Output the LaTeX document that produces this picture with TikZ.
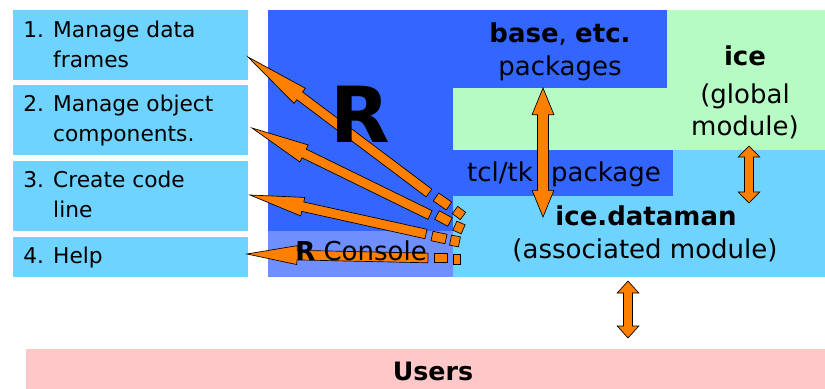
\documentclass[tikz,border=0pt]{standalone}
\usepackage{fontspec}
\setmainfont{DejaVu Sans}
\usetikzlibrary{calc}
\definecolor{rblue}{RGB}{51,102,255}
\definecolor{lblue}{RGB}{111,211,255}
\definecolor{lgreen}{RGB}{183,251,196}
\definecolor{cons}{RGB}{111,143,255}
\definecolor{upink}{RGB}{255,200,200}
\definecolor{aorange}{RGB}{255,128,0}
% block arrow: tail, head, shaft half width, head half width, head length
\newcommand\blockarr[5]{%
  \coordinate (ba) at ($(#2)!#5!(#1)$);
  \draw[arr] ($(#1)!#3!90:(#2)$) -- ($(ba)!#3!90:(#2)$) -- ($(ba)!#4!90:(#2)$) -- (#2)
    -- ($(ba)!#4!-90:(#2)$) -- ($(ba)!#3!-90:(#2)$) -- ($(#1)!#3!-90:(#2)$) -- cycle;}
% double block arrow
\newcommand\dblarr[5]{%
  \coordinate (da) at ($(#1)!#5!(#2)$);
  \coordinate (db) at ($(#2)!#5!(#1)$);
  \draw[arr] (#1) -- ($(da)!#4!90:(#2)$) -- ($(da)!#3!90:(#2)$) -- ($(db)!#3!-90:(#1)$)
    -- ($(db)!#4!-90:(#1)$) -- (#2) -- ($(db)!#4!90:(#1)$) -- ($(db)!#3!90:(#1)$)
    -- ($(da)!#3!-90:(#2)$) -- ($(da)!#4!-90:(#2)$) -- cycle;}
% dash piece
\newcommand\dashpc[3]{%
  \draw[arr] ($(#1)!#3!90:(#2)$) -- ($(#2)!#3!-90:(#1)$) -- ($(#2)!#3!90:(#1)$) -- ($(#1)!#3!-90:(#2)$) -- cycle;}
\tikzset{
  lbox/.style={fill=lblue, inner sep=0pt, minimum width=176.25pt, minimum height=#1},
  ltext/.style={anchor=base west, align=left, inner sep=0pt, font=\fontsize{16.3}{22.5}\selectfont},
  rtext/.style={anchor=base, inner sep=0pt, font=\fontsize{19.5}{24}\selectfont},
  arr/.style={fill=aorange, draw=black, line width=0.5pt, line join=miter},
}
\begin{document}
\begin{tikzpicture}[x=0.75pt, y=-0.75pt]
\useasboundingbox (0,0) rectangle (825,389);
% right block regions
\fill[rblue] (268,10) rectangle (453,231);
\fill[rblue] (453,10) rectangle (667,88);
\fill[lgreen] (667,10) rectangle (825,150);
\fill[lgreen] (453,88) rectangle (667,150);
\fill[rblue] (453,150) rectangle (673,196);
\fill[lblue] (673,150) rectangle (825,196);
\fill[lblue] (453,196) rectangle (825,277);
\fill[cons] (268,231) rectangle (453,277);
% users
\node[fill=upink, inner sep=0pt, minimum width=599.25pt, minimum height=30pt] (usersbox) at (425.5,369) {};
% left boxes
\node[lbox=52.5pt] (box1) at (130.5,45) {};
\node[lbox=52.5pt] (box2) at (130.5,120) {};
\node[lbox=52.5pt] (box3) at (130.5,196) {};
\node[lbox=30pt] (box4) at (130.5,257) {};
% fan arrows
\coordinate (h1) at (248,57);  \coordinate (t1) at (429,193);
\coordinate (h2) at (252,128); \coordinate (t2) at (430,215);
\coordinate (h3) at (250,195); \coordinate (t3) at (426,234);
\coordinate (h4) at (247,254); \coordinate (t4) at (428,258);
\blockarr{t1}{h1}{3.6pt}{7.1pt}{48.5pt}
\blockarr{t2}{h2}{3.6pt}{7.1pt}{43.5pt}
\blockarr{t3}{h3}{3.6pt}{7.1pt}{40.5pt}
\blockarr{t4}{h4}{3.6pt}{7.1pt}{37.5pt}
\coordinate (d1a) at (436,197); \coordinate (d1b) at (449,206);
\coordinate (d1c) at (455,210); \coordinate (d1d) at (463,216);
\coordinate (d2a) at (437,215); \coordinate (d2b) at (450,222);
\coordinate (d2c) at (461,223); \coordinate (d2d) at (457,232);
\coordinate (d3a) at (432,236); \coordinate (d3b) at (446,239);
\coordinate (d3c) at (456,236); \coordinate (d3d) at (454,246);
\coordinate (d4a) at (434,258); \coordinate (d4b) at (447,258);
\coordinate (d4c) at (457,254); \coordinate (d4d) at (457,264);
\dashpc{d1a}{d1b}{3.6pt}\dashpc{d1c}{d1d}{3.4pt}
\dashpc{d2a}{d2b}{3.6pt}\dashpc{d2c}{d2d}{3.4pt}
\dashpc{d3a}{d3b}{3.6pt}\dashpc{d3c}{d3d}{3.4pt}
\dashpc{d4a}{d4b}{3.6pt}\dashpc{d4c}{d4d}{2.8pt}
% vertical double arrows
\coordinate (va1) at (543,88);  \coordinate (vb1) at (543,217);
\coordinate (va2) at (749,146); \coordinate (vb2) at (749,203);
\coordinate (va3) at (628,281); \coordinate (vb3) at (628,338);
\dblarr{va1}{vb1}{4.1pt}{8.2pt}{20pt}
\dblarr{va2}{vb2}{3.4pt}{8.1pt}{8.3pt}
\dblarr{va3}{vb3}{3.4pt}{8.1pt}{9pt}
% texts (base anchor of a multi-line node = last line)
\node[ltext] (tx1) at (23,67) {1. Manage data\\\phantom{1. }frames};
\node[ltext] (tx2) at (23,141) {2. Manage object\\\phantom{2. }components.};
\node[ltext] (tx3) at (23,217) {3. Create code\\\phantom{3. }line};
\node[ltext] (tx4) at (23,263) {4. Help};
\node[anchor=base, inner sep=0pt, font=\fontsize{58}{60}\selectfont\bfseries] (Rbig) at (360,142) {R};
\node[rtext] (basetxt) at (560,42) {\textbf{base}, \textbf{etc.}};
\node[rtext] (pkgtxt) at (560,75) {packages};
\node[rtext] (icetxt) at (745,65) {\textbf{ice}};
\node[rtext] (glob) at (745,103) {(global};
\node[rtext] (modl) at (745,135) {module)};
\node[rtext] (tcl) at (500,181) {tcl/tk};
\node[rtext] (pkg2) at (606,181) {package};
\node[rtext] (dm) at (646,225) {\textbf{ice.dataman}};
\node[rtext] (assoc) at (645,258) {(associated module)};
\node[rtext] (console) at (361,260) {\textbf{R} Console};
\node[anchor=base, inner sep=0pt, font=\fontsize{19}{22}\selectfont\bfseries] (users) at (433,380) {Users};
\end{tikzpicture}
\end{document}
